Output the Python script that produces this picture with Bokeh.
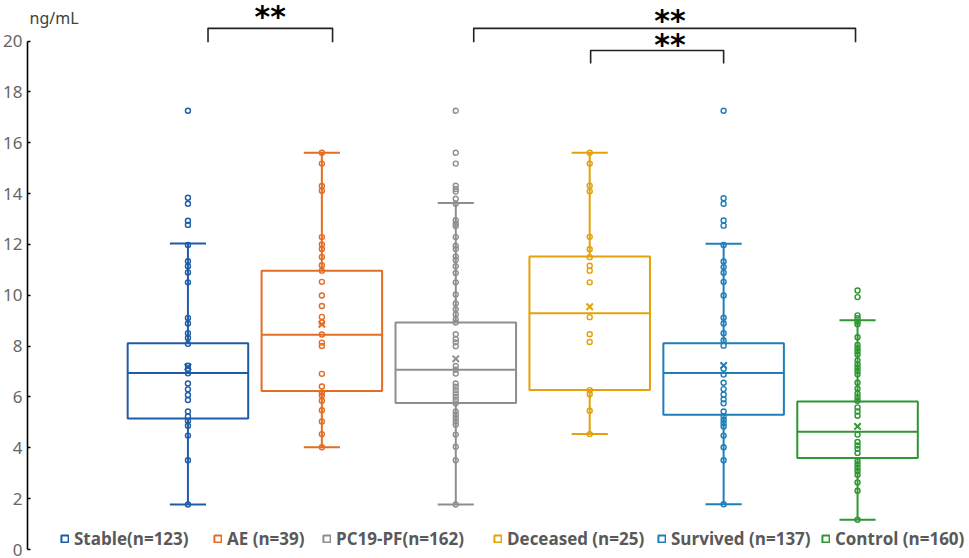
from bokeh.plotting import figure
from bokeh.models import Range1d, FixedTicker, LinearAxis, Label, Legend, LegendItem, ColumnDataSource
from bokeh.embed import file_html
from bokeh.resources import INLINE

# ---------------- data ----------------
groups = ["Stable", "AE", "PC19-PF", "Deceased", "Survived", "Control"]
legend_labels = ["Stable(n=123)", "AE (n=39)", "PC19-PF(n=162)",
                 "Deceased (n=25)", "Survived (n=137)", "Control (n=160)"]
colors = ["#1f5ca8", "#e46d26", "#8e8e8e", "#e3a20a", "#1e7fba", "#2f9632"]

whisker_low = [1.77, 4.02, 1.77, 4.54, 1.78, 1.17]
q1 = [5.15, 6.24, 5.76, 6.27, 5.30, 3.60]
median = [6.94, 8.45, 7.07, 9.29, 6.94, 4.63]
q3 = [8.11, 10.97, 8.93, 11.53, 8.11, 5.82]
whisker_high = [12.04, 15.61, 13.63, 15.61, 12.03, 9.02]
mean = [7.18, 8.86, 7.50, 9.55, 7.24, 4.84]

stable_pts = [17.26, 13.84, 13.60, 12.93, 12.77, 11.98, 11.34, 11.14, 10.90, 10.51, 9.11, 8.89,
              8.51, 8.32, 8.09, 7.23, 7.09, 6.93, 6.53, 6.30, 6.08, 5.88, 5.43, 5.23, 5.06, 4.87,
              4.48, 3.51, 1.77]
ae_pts = [15.61, 15.18, 14.30, 14.11, 12.29, 12.00, 11.82, 11.51, 11.18, 10.97, 10.53, 9.99, 9.58,
          9.15, 8.93, 8.46, 8.14, 8.01, 6.91, 6.41, 6.17, 6.06, 5.85, 5.48, 5.04, 4.54, 4.02]
pc_pts = [17.26, 15.61, 15.18, 14.31, 14.18, 14.08, 13.80, 13.60, 12.95, 12.82, 12.73, 12.29, 11.95,
          11.82, 11.53, 11.39, 11.14, 10.88, 10.51, 10.03, 9.68, 9.45, 9.25, 9.06, 8.93, 8.47, 8.28,
          8.15, 8.00, 7.22, 7.07, 6.92, 6.53, 6.40, 6.27, 6.14, 6.01, 5.88, 5.75, 5.43, 5.30, 5.17,
          5.04, 4.91, 4.52, 4.04, 3.51, 1.77]
deceased_pts = [15.61, 15.18, 14.31, 14.09, 12.30, 11.81, 11.50, 11.16, 10.97, 10.51, 9.14, 8.47,
                8.16, 6.27, 6.11, 5.46, 4.54]
survived_pts = [17.26, 13.82, 13.60, 12.94, 12.74, 11.98, 11.33, 11.11, 10.89, 10.53, 9.99, 9.12,
                8.89, 8.51, 8.22, 8.02, 7.11, 6.88, 6.56, 6.31, 6.10, 5.91, 5.75, 5.43, 5.23, 5.10,
                4.97, 4.84, 4.48, 4.02, 3.51, 1.78]
control_pts = [10.19, 9.93, 9.21, 9.10, 8.96, 8.86, 8.35, 8.05, 7.92, 7.80, 7.67, 7.44, 7.28, 7.15,
               7.02, 6.89, 6.56, 6.33, 6.14, 5.98, 5.85, 5.59, 5.43, 5.26, 4.52, 4.23, 4.09, 3.96,
               3.80, 3.48, 3.35, 3.22, 3.09, 2.94, 2.64, 2.31, 1.17]
all_points = [stable_pts, ae_pts, pc_pts, deceased_pts, survived_pts, control_pts]

y_ticks = [0, 2, 4, 6, 8, 10, 12, 14, 16, 18, 20]
unit_label = "ng/mL"

# significance comparisons: (group a, group b, label)
comparisons = [(0, 1, "**"), (2, 5, "**"), (3, 4, "**")]

# ---------------- figure ----------------
xs = [i + 1 for i in range(len(groups))]
half_w = 0.45
cap_w = 0.135
x_start, x_end = -0.198, 6.836

p = figure(width=969, height=558, output_backend="svg", toolbar_location=None,
           x_range=Range1d(x_start, x_end), y_range=Range1d(-0.354, 21.597),
           x_axis_location=None, y_axis_location=None,
           min_border_left=0, min_border_right=0, min_border_top=0, min_border_bottom=0)
p.outline_line_color = None
p.grid.visible = False

yaxis = LinearAxis(ticker=FixedTicker(ticks=y_ticks), bounds=(0, 20))
yaxis.axis_line_color = "#000000"
yaxis.axis_line_width = 1.6
yaxis.major_tick_in = 3
yaxis.major_tick_out = 0
yaxis.major_tick_line_color = "#000000"
yaxis.major_tick_line_width = 1.5
yaxis.minor_tick_line_color = None
yaxis.major_label_text_font = "Noto Sans"
yaxis.major_label_text_font_size = "17px"
yaxis.major_label_text_color = "#666666"
yaxis.major_label_standoff = 5
p.add_layout(yaxis, "left")

src = ColumnDataSource(dict(
    x=xs, left=[x - half_w for x in xs], right=[x + half_w for x in xs],
    q1=q1, q3=q3, med=median, lo=whisker_low, hi=whisker_high, mean=mean,
    cap_l=[x - cap_w for x in xs], cap_r=[x + cap_w for x in xs], color=colors))

# whiskers
p.segment(x0="x", y0="q3", x1="x", y1="hi", line_color="color", line_width=2, source=src)
p.segment(x0="x", y0="q1", x1="x", y1="lo", line_color="color", line_width=2, source=src)
p.segment(x0="cap_l", y0="hi", x1="cap_r", y1="hi", line_color="color", line_width=2, source=src)
p.segment(x0="cap_l", y0="lo", x1="cap_r", y1="lo", line_color="color", line_width=2, source=src)
# boxes
boxes = p.quad(left="left", right="right", top="q3", bottom="q1", fill_alpha=0,
               line_color="color", line_width=2, source=src)
p.segment(x0="left", y0="med", x1="right", y1="med", line_color="color", line_width=2, source=src)

# points
for i, pts in enumerate(all_points):
    p.scatter(x=[xs[i]] * len(pts), y=pts, marker="circle", size=5, fill_alpha=0,
              line_color=colors[i], line_width=1.4)

# means
p.scatter(x="x", y="mean", marker="x", size=9, line_color="color", line_width=2, source=src)

# significance brackets
br_offsets = [(0.15, 0.08), (0.134, -0.015), (0.007, 0.0)]
br_levels = [20.50, 20.50, 19.63]
br_legs = [0.55, 0.55, 0.51]
star_pos = [(0.615, 20.96), (1.6, 20.81), (0.6, 19.88)]
for (a, b, txt), (oa, ob), lvl, leg_h, (sx, sy) in zip(comparisons, br_offsets, br_levels,
                                                        br_legs, star_pos):
    xa, xb = xs[a] + oa, xs[b] + ob
    p.line(x=[xa, xa, xb, xb], y=[lvl - leg_h, lvl, lvl, lvl - leg_h],
           line_color="#222222", line_width=1.6, line_join="round")
    p.add_layout(Label(x=xs[a] + sx, y=sy, text=txt, text_font="DejaVu Sans",
                       text_font_style="bold", text_font_size="30px", text_color="#000000",
                       text_align="center", text_baseline="middle"))

# unit label (just inside the plot frame, above the axis top)
p.add_layout(Label(x=x_start, y=20.91, text=unit_label, x_units="data", y_units="data",
                   x_offset=2, text_font="Noto Sans", text_font_size="16px",
                   text_color="#404040", text_baseline="middle", text_align="left"))

# legends (one per item so each sits where the original has it)
legend_x = [33, 186, 295, 466, 630, 794]
for i, lab in enumerate(legend_labels):
    leg = Legend(items=[LegendItem(label=lab, renderers=[boxes], index=i)],
                 location=(legend_x[i], 8), orientation="horizontal",
                 glyph_width=9, glyph_height=9, label_height=10, label_standoff=5,
                 padding=0, margin=0, spacing=0, border_line_alpha=0, background_fill_alpha=0,
                 label_text_font="Open Sans", label_text_font_style="bold",
                 label_text_font_size="17px", label_text_color="#595959")
    p.add_layout(leg)

open("out.html", "w").write(file_html(p, INLINE))
